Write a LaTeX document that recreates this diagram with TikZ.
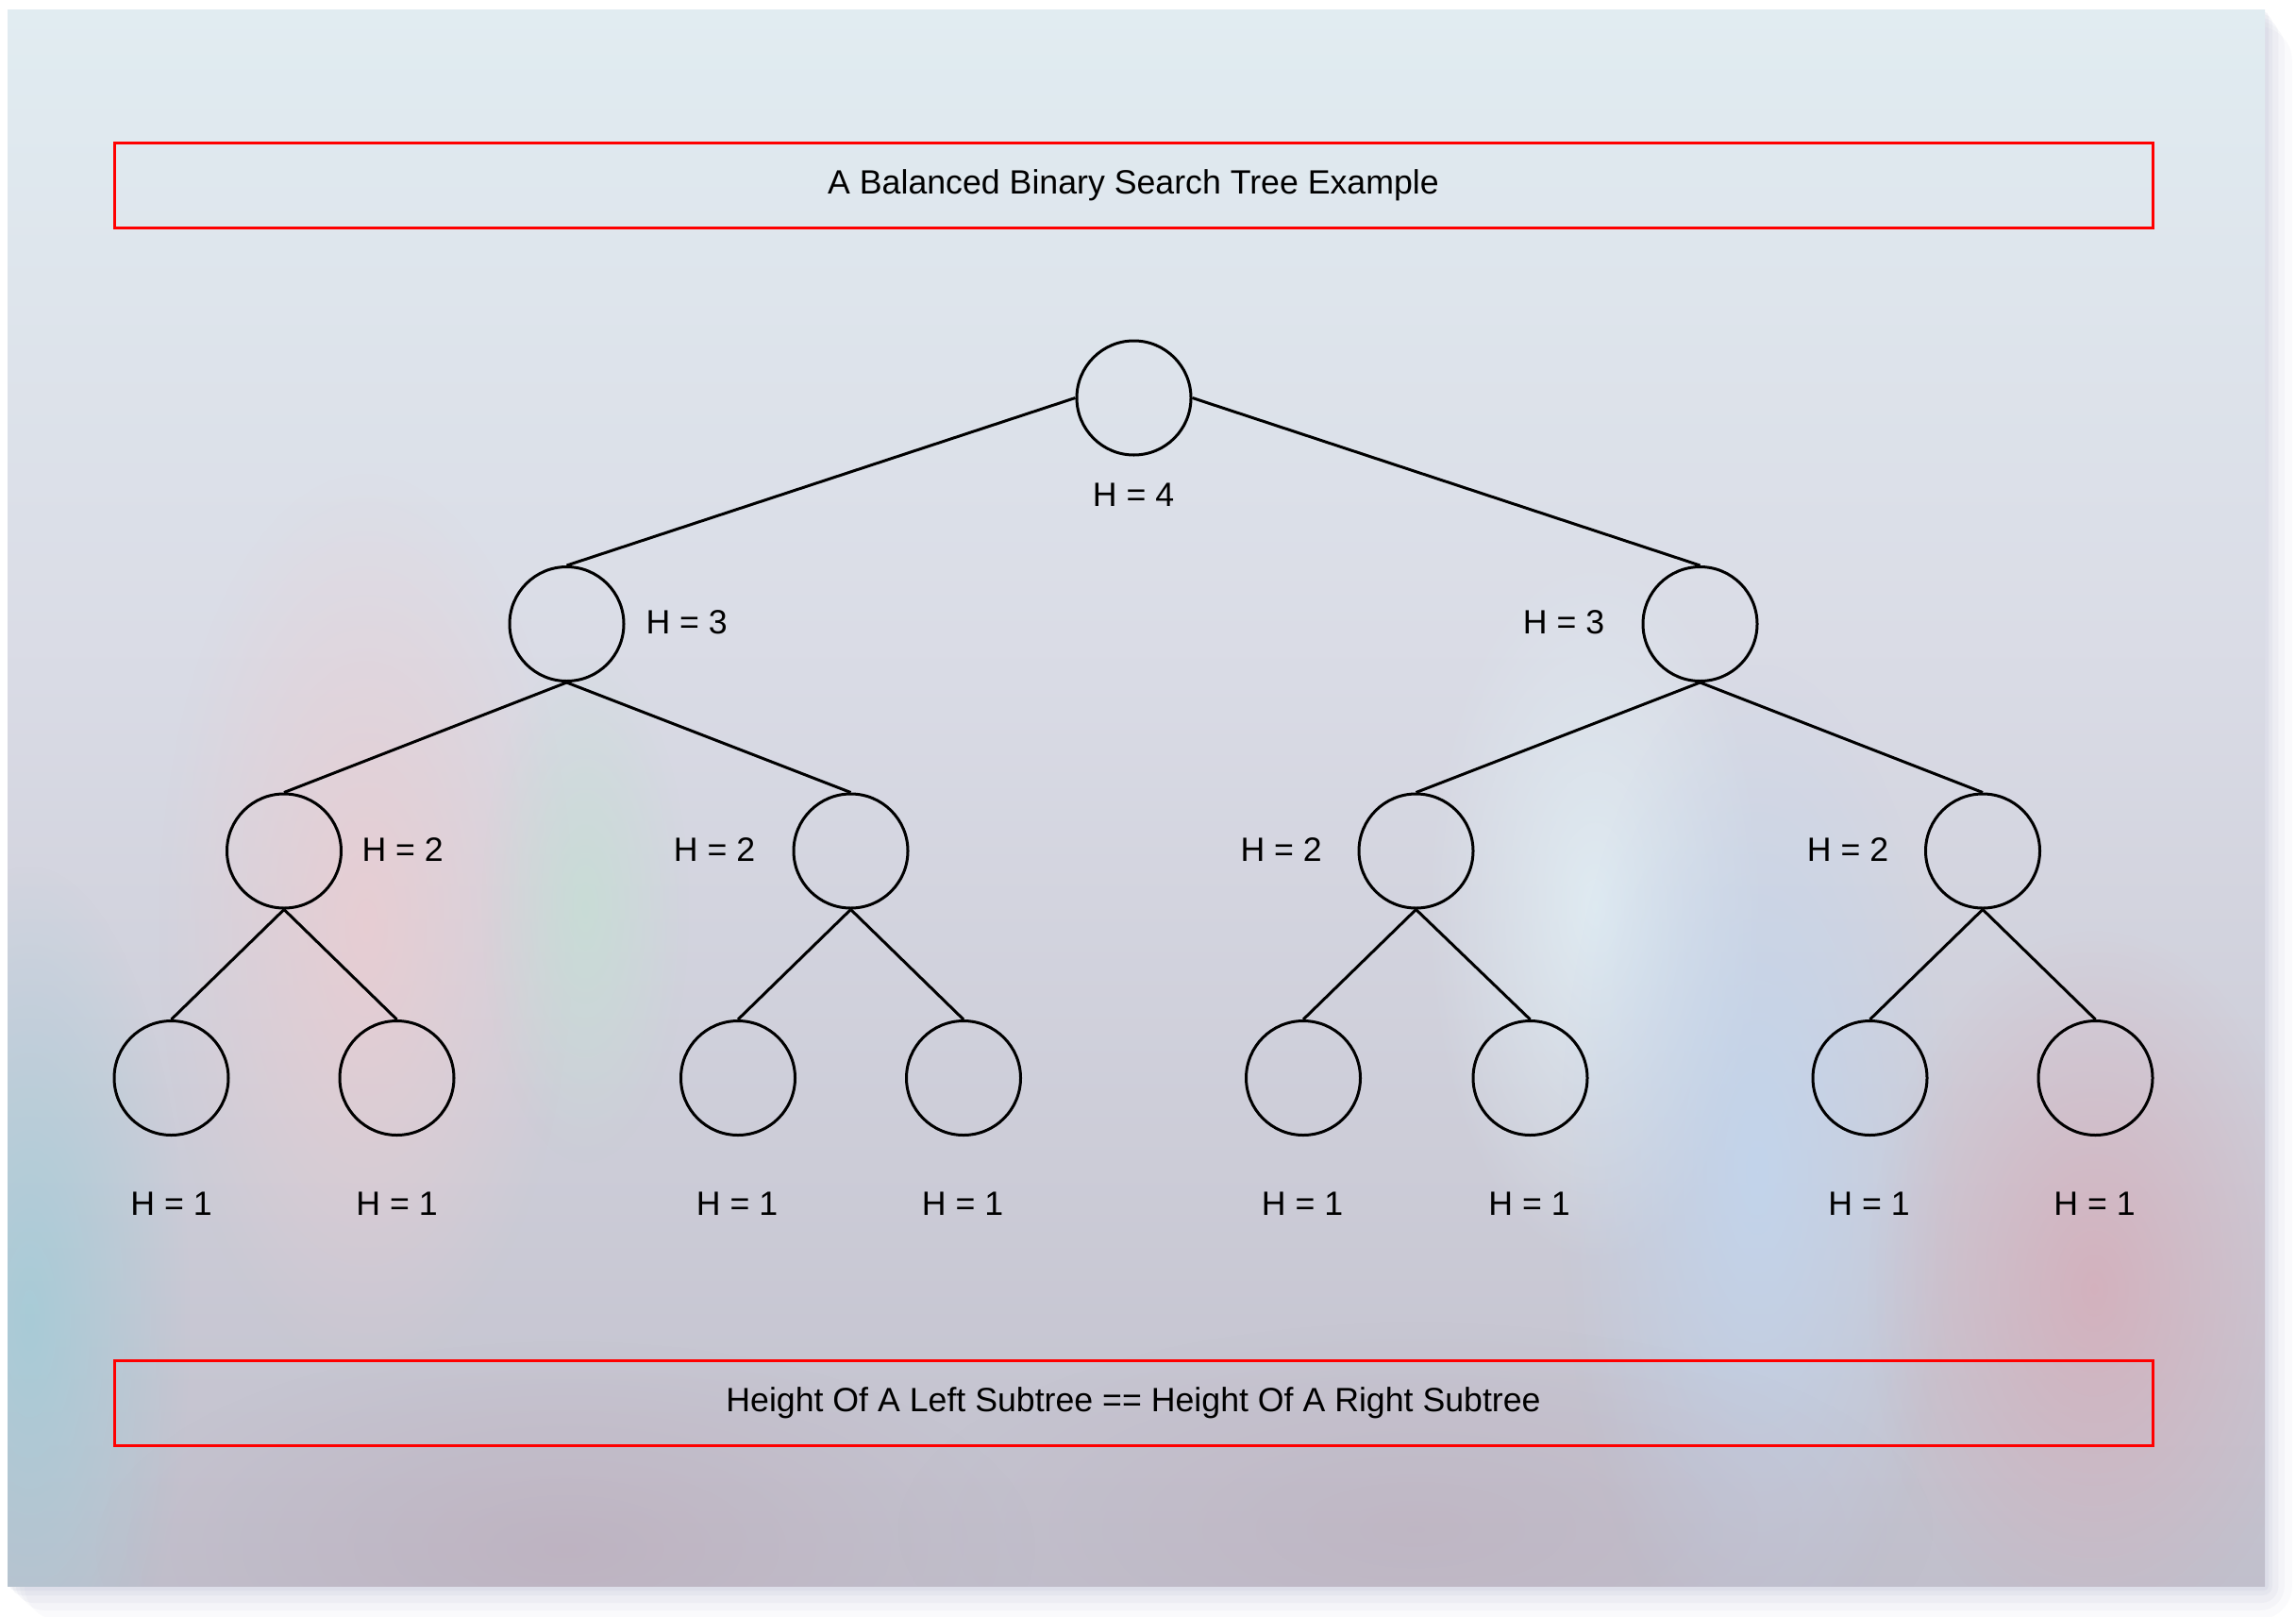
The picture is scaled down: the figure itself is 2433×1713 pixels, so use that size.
\documentclass[tikz,border=0pt]{standalone}
\usepackage{fontspec}
\setmainfont{Liberation Sans}
\usetikzlibrary{fadings}
\tikzfading[name=blobfade, inner color=transparent!0, outer color=transparent!100]
\definecolor{bgtop}{RGB}{228,239,244}
\definecolor{bgtopb}{RGB}{225,236,241}
\definecolor{bgmid}{RGB}{218,220,230}
\definecolor{bgbot}{RGB}{176,172,186}
\definecolor{blobpink}{RGB}{236,204,208}
\definecolor{blobgreen}{RGB}{198,222,212}
\definecolor{blobblue}{RGB}{192,214,240}
\definecolor{blobrose}{RGB}{214,172,184}
\definecolor{blobteal}{RGB}{160,204,216}
\definecolor{blobmauve}{RGB}{186,164,180}
\definecolor{blobcyan}{RGB}{226,240,246}
\definecolor{shadowcol}{RGB}{170,175,200}
\pgfdeclareverticalshading{panelbg}{100bp}{color(0bp)=(bgbot); color(25bp)=(bgbot!60!bgmid); color(55bp)=(bgmid); color(75bp)=(bgtopb); color(100bp)=(bgtop)}
\tikzset{
  treenode/.style={circle, draw=black, line width=3pt, minimum size=121pt, inner sep=0pt},
  hlabel/.style={font=\fontsize{35.7}{40}\selectfont, text=black, inner sep=0pt},
  banner/.style={draw=red, line width=3pt, minimum width=2160pt, minimum height=90pt, inner sep=0pt, font=\fontsize{35.7}{40}\selectfont},
  edge/.style={line width=3pt, black},
  blob/.style={path fading=blobfade, fill opacity=0.8}
}
\begin{document}
\begin{tikzpicture}[x=1pt,y=-1pt]
\useasboundingbox (0,0) rectangle (2433,1713);
\fill[white] (0,0) rectangle (2433,1713);
% panel shadow (soft layers)
\foreach \d/\o in {36/0.05,26/0.07,18/0.09,10/0.11,5/0.13}{
  \fill[shadowcol, fill opacity=\o, rounded corners=\d pt] (8+\d*0.5,10+\d*0.5) rectangle (2400+\d*0.8,1680+\d);
}
% panel background
\shade[shading=panelbg] (8,10) rectangle (2400,1680);
\begin{scope}
\clip (8,10) rectangle (2400,1680);
\fill[blobpink, blob] (388,980) ellipse (220 and 480);
\fill[blobgreen, blob] (620,962) ellipse (110 and 270);
\fill[blobcyan, blob] (1690,960) ellipse (180 and 380);
\fill[blobblue, blob] (1862,1241) ellipse (210 and 540);
\fill[blobrose, blob] (2219,1365) ellipse (240 and 380);
\fill[blobteal, blob] (31,1396) ellipse (170 and 480);
\fill[blobmauve, blob, fill opacity=0.45] (600,1640) ellipse (500 and 220);
\fill[blobmauve, blob, fill opacity=0.35] (1500,1620) ellipse (550 and 220);
\end{scope}

% banners
\node[banner] (title) at (1201,196) {A Balanced Binary Search Tree Example};
\node[banner] (rule) at (1201,1486.5) {Height Of A Left Subtree == Height Of A Right Subtree};

% tree nodes
\node[treenode] (r) at (1201.5,421.5) {};
\node[treenode] (a) at (600.5,661) {};
\node[treenode] (b) at (1801.5,661) {};
\node[treenode] (aa) at (301,901.5) {};
\node[treenode] (ab) at (901.5,901.5) {};
\node[treenode] (ba) at (1500.5,901.5) {};
\node[treenode] (bb) at (2101,901.5) {};
\node[treenode] (l1) at (181.5,1142) {};
\node[treenode] (l2) at (420.5,1142) {};
\node[treenode] (l3) at (782,1142) {};
\node[treenode] (l4) at (1021,1142) {};
\node[treenode] (l5) at (1381,1142) {};
\node[treenode] (l6) at (1621.5,1142) {};
\node[treenode] (l7) at (1981.5,1142) {};
\node[treenode] (l8) at (2220.5,1142) {};

% edges
\draw[edge] (r.west) -- (a.north);
\draw[edge] (r.east) -- (b.north);
\draw[edge] (a.south) -- (aa.north);
\draw[edge] (a.south) -- (ab.north);
\draw[edge] (b.south) -- (ba.north);
\draw[edge] (b.south) -- (bb.north);
\draw[edge] (aa.south) -- (l1.north);
\draw[edge] (aa.south) -- (l2.north);
\draw[edge] (ab.south) -- (l3.north);
\draw[edge] (ab.south) -- (l4.north);
\draw[edge] (ba.south) -- (l5.north);
\draw[edge] (ba.south) -- (l6.north);
\draw[edge] (bb.south) -- (l7.north);
\draw[edge] (bb.south) -- (l8.north);

% labels
\node[hlabel] (hr) at (1201,524.5) {H = 4};
\node[hlabel] (ha) at (727.7,659.5) {H = 3};
\node[hlabel] (hb) at (1657,659.5) {H = 3};
\node[hlabel] (haa) at (426.7,900) {H = 2};
\node[hlabel] (hab) at (757,900) {H = 2};
\node[hlabel] (hba) at (1357.7,900) {H = 2};
\node[hlabel] (hbb) at (1958,900) {H = 2};
\node[hlabel] (h1) at (181.5,1275.5) {H = 1};
\node[hlabel] (h2) at (420.5,1275.5) {H = 1};
\node[hlabel] (h3) at (781,1275.5) {H = 1};
\node[hlabel] (h4) at (1020,1275.5) {H = 1};
\node[hlabel] (h5) at (1380,1275.5) {H = 1};
\node[hlabel] (h6) at (1620.5,1275.5) {H = 1};
\node[hlabel] (h7) at (1980.5,1275.5) {H = 1};
\node[hlabel] (h8) at (2219.5,1275.5) {H = 1};
\end{tikzpicture}
\end{document}
